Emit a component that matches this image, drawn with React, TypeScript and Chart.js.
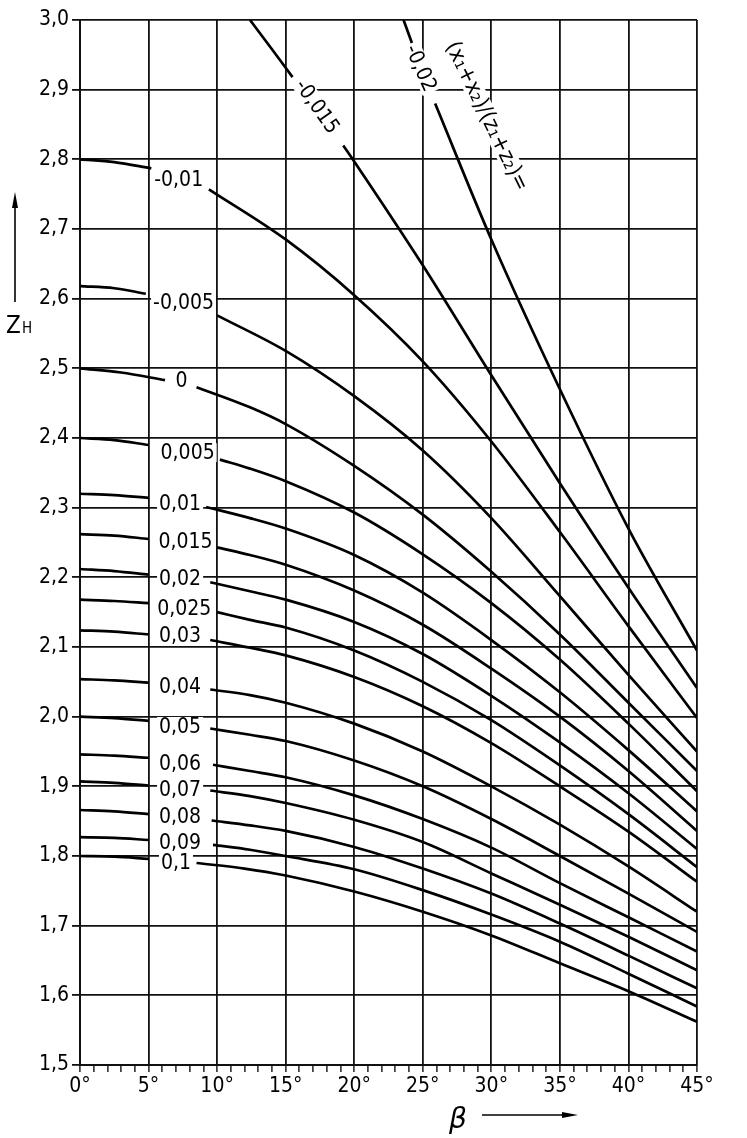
import React, { useEffect, useRef } from "react";
import { Chart, registerables } from "chart.js";

Chart.register(...registerables);

type Pt = [number, number | null];

// parameter (x1+x2)/(z1+z2) of each curve
const curveNames: string[] = [
  "-0,02", "-0,015", "-0,01", "-0,005", "0", "0,005", "0,01", "0,015", "0,02",
  "0,025", "0,03", "0,04", "0,05", "0,06", "0,07", "0,08", "0,09", "0,1",
];

// [beta in degrees, Z_H]; null = gap for the curve label
const zM020: Pt[] = [[23.6, 3.0], [24.3, 2.962], [25.0, null], [25.9, 2.88], [30, 2.685], [35, 2.47], [40, 2.27], [45, 2.095]];
const zM015: Pt[] = [[12.4, 3.0], [14, 2.958], [15.5, 2.918], [16.5, null], [19.2, 2.82], [20, 2.797], [25, 2.648], [30, 2.49], [35, 2.335], [40, 2.185], [45, 2.041]];
const zM010: Pt[] = [[0, 2.8], [2.5, 2.796], [5.2, 2.787], [6, null], [9.4, 2.757], [15, 2.685], [20, 2.605], [25, 2.51], [30, 2.395], [35, 2.265], [40, 2.13], [45, 1.998]];
const zM005: Pt[] = [[0, 2.618], [2.5, 2.615], [4.8, 2.607], [6, null], [10, 2.576], [15, 2.525], [20, 2.46], [25, 2.382], [30, 2.285], [35, 2.173], [40, 2.06], [45, 1.95]];
const zP000: Pt[] = [[0, 2.5], [3, 2.494], [6.2, 2.483], [7, null], [8.5, 2.473], [12.4, 2.444], [15, 2.42], [20, 2.36], [25, 2.29], [30, 2.208], [35, 2.118], [40, 2.02], [45, 1.922]];
const zP005: Pt[] = [[0, 2.4], [2.5, 2.397], [5, 2.39], [6, null], [10.2, 2.369], [12.4, 2.356], [15, 2.338], [20, 2.293], [25, 2.233], [30, 2.163], [35, 2.082], [40, 1.99], [45, 1.893]];
const zP010: Pt[] = [[0, 2.32], [2.5, 2.318], [5, 2.314], [6, null], [9.2, 2.301], [12.4, 2.285], [15, 2.27], [20, 2.232], [25, 2.178], [30, 2.11], [35, 2.035], [40, 1.952], [45, 1.864]];
const zP015: Pt[] = [[0, 2.262], [2.5, 2.26], [5, 2.255], [6, null], [10, 2.243], [12.4, 2.232], [15, 2.218], [20, 2.181], [25, 2.132], [30, 2.069], [35, 2.0], [40, 1.922], [45, 1.836]];
const zP020: Pt[] = [[0, 2.212], [2.5, 2.209], [5, 2.204], [6, null], [9.5, 2.193], [12.4, 2.18], [15, 2.168], [20, 2.136], [25, 2.09], [30, 2.03], [35, 1.963], [40, 1.89], [45, 1.81]];
const zP025: Pt[] = [[0, 2.168], [2.5, 2.166], [5, 2.163], [6, null], [10, 2.15], [12.4, 2.139], [15, 2.128], [20, 2.095], [25, 2.05], [30, 1.995], [35, 1.93], [40, 1.86], [45, 1.784]];
const zP030: Pt[] = [[0, 2.124], [2.5, 2.122], [5, 2.118], [6, null], [9.5, 2.11], [12.4, 2.099], [15, 2.088], [20, 2.057], [25, 2.015], [30, 1.962], [35, 1.9], [40, 1.835], [45, 1.763]];
const zP040: Pt[] = [[0, 2.054], [2.5, 2.052], [5, 2.049], [6, null], [9.5, 2.039], [12.4, 2.031], [15, 2.02], [20, 1.99], [25, 1.95], [30, 1.9], [35, 1.845], [40, 1.785], [45, 1.72]];
const zP050: Pt[] = [[0, 2.0], [2.5, 1.998], [5, 1.994], [6, null], [9.5, 1.983], [12.4, 1.974], [15, 1.965], [20, 1.937], [25, 1.9], [30, 1.853], [35, 1.8], [40, 1.746], [45, 1.691]];
const zP060: Pt[] = [[0, 1.946], [2.5, 1.944], [5, 1.941], [6, null], [9.7, 1.931], [12.4, 1.922], [15, 1.913], [20, 1.887], [25, 1.853], [30, 1.812], [35, 1.761], [40, 1.712], [45, 1.663]];
const zP070: Pt[] = [[0, 1.907], [2.5, 1.905], [5, 1.901], [6, null], [9.5, 1.894], [12.4, 1.886], [15, 1.876], [20, 1.852], [25, 1.82], [30, 1.775], [35, 1.73], [40, 1.684], [45, 1.636]];
const zP080: Pt[] = [[0, 1.866], [2.5, 1.864], [5, 1.86], [6, null], [9.6, 1.851], [12.4, 1.844], [15, 1.836], [20, 1.813], [25, 1.782], [30, 1.746], [35, 1.703], [40, 1.657], [45, 1.61]];
const zP090: Pt[] = [[0, 1.827], [2.5, 1.826], [5, 1.823], [6, null], [9.7, 1.816], [12.4, 1.809], [15, 1.8], [20, 1.781], [25, 1.751], [30, 1.716], [35, 1.677], [40, 1.631], [45, 1.584]];
const zP100: Pt[] = [[0, 1.8], [2.5, 1.799], [5, 1.796], [6, null], [8.5, 1.79], [12, 1.782], [15, 1.772], [20, 1.749], [25, 1.72], [30, 1.686], [35, 1.646], [40, 1.606], [45, 1.562]];

const curveSeries: Pt[][] = [
  zM020, zM015, zM010, zM005, zP000, zP005, zP010, zP015, zP020,
  zP025, zP030, zP040, zP050, zP060, zP070, zP080, zP090, zP100,
];

// label anchors [beta, Z_H, rotation deg]
const labelAnchors: [number, number, number][] = [
  [24.85, 2.931, 66], [17.3, 2.876, 55], [7.2, 2.771, 0], [7.55, 2.594, 0],
  [7.4, 2.483, 0], [7.85, 2.379, 0], [7.3, 2.306, 0], [7.7, 2.251, 0],
  [7.3, 2.198, 0], [7.6, 2.155, 0], [7.3, 2.116, 0], [7.3, 2.043, 0],
  [7.3, 1.986, 0], [7.3, 1.933, 0], [7.3, 1.896, 0], [7.3, 1.857, 0],
  [7.3, 1.82, 0], [7.0, 1.79, 0],
];

const paramTitle = "(x\u2081+x\u2082)/(z\u2081+z\u2082)=";
const titleAnchor: [number, number, number] = [29.7, 2.862, 64];

const xMin = 0, xMax = 45, yMin = 1.5, yMax = 3.0;

const FONT = '"DejaVu Sans Condensed", "DejaVu Sans", sans-serif';
const INK = "#111";

const labelPlugin = {
  id: "curveLabels",
  afterDatasetsDraw(chart: any) {
    const { ctx } = chart;
    const xs = chart.scales.x;
    const ys = chart.scales.y;
    ctx.save();
    ctx.textAlign = "center";
    ctx.textBaseline = "middle";
    const drawLabel = (text: string, a: [number, number, number], size: number) => {
      const px = xs.getPixelForValue(a[0]);
      const py = ys.getPixelForValue(a[1]);
      ctx.save();
      ctx.translate(px, py);
      ctx.rotate((a[2] * Math.PI) / 180);
      ctx.font = `${size}px ${FONT}`;
      const w = ctx.measureText(text).width;
      ctx.fillStyle = "#fff";
      ctx.fillRect(-w / 2 - 2, -size * 0.45, w + 4, size * 0.9);
      ctx.fillStyle = "#000";
      ctx.fillText(text, 0, 1);
      ctx.restore();
    };
    curveNames.forEach((n, i) => drawLabel(n, labelAnchors[i], 21));
    drawLabel(paramTitle, titleAnchor, 22);

    // y-axis title Z_H with arrow
    ctx.fillStyle = "#000";
    ctx.strokeStyle = "#000";
    ctx.lineWidth = 1.6;
    ctx.beginPath();
    ctx.moveTo(15, 302);
    ctx.lineTo(15, 205);
    ctx.stroke();
    ctx.beginPath();
    ctx.moveTo(15, 192);
    ctx.lineTo(12, 208);
    ctx.lineTo(18, 208);
    ctx.closePath();
    ctx.fill();
    ctx.textAlign = "left";
    ctx.textBaseline = "alphabetic";
    ctx.font = `24px ${FONT}`;
    ctx.fillText("Z", 6, 333);
    ctx.font = `15px ${FONT}`;
    ctx.fillText("H", 22, 333);

    // x-axis title beta with arrow
    ctx.font = `italic 28px "DejaVu Sans", sans-serif`;
    ctx.fillText("\u03b2", 449, 1128);
    ctx.beginPath();
    ctx.moveTo(482, 1115);
    ctx.lineTo(565, 1115);
    ctx.stroke();
    ctx.beginPath();
    ctx.moveTo(578, 1115);
    ctx.lineTo(562, 1112);
    ctx.lineTo(562, 1118);
    ctx.closePath();
    ctx.fill();
    ctx.restore();
  },
};

export default function App() {
  const canvasRef = useRef<HTMLCanvasElement | null>(null);

  useEffect(() => {
    if (!canvasRef.current) return;
    const datasets = curveSeries.map((s, i) => ({
      label: curveNames[i],
      data: s.map(([b, z]) => ({ x: b, y: z })),
      borderColor: "#000",
      borderWidth: 2.7,
      pointRadius: 0,
      fill: false,
      spanGaps: false,
      cubicInterpolationMode: "monotone" as const,
    }));
    const chart = new Chart(canvasRef.current, {
      type: "line",
      data: { datasets },
      options: {
        animation: false,
        responsive: false,
        devicePixelRatio: 1,
        layout: { padding: { top: 20, right: 50, left: 0, bottom: 0 } },
        plugins: { legend: { display: false }, tooltip: { enabled: false } },
        scales: {
          x: {
            type: "linear",
            min: xMin,
            max: xMax,
            afterFit: (s: any) => { s.height = 73; },
            ticks: {
              stepSize: 1,
              autoSkip: false,
              maxRotation: 0,
              minRotation: 0,
              padding: 2,
              color: "#000",
              font: { family: FONT, size: 21 },
              callback: (v: any) => (Number(v) % 5 === 0 ? `${v}\u00b0` : ""),
            },
            grid: {
              color: (c: any) => (c.tick && Math.round(c.tick.value) % 5 === 0 ? INK : "rgba(0,0,0,0)"),
              lineWidth: 1.8,
              tickColor: INK,
              tickLength: 7,
              tickWidth: 1.4,
            },
            border: { color: INK, width: 2 },
          },
          y: {
            type: "linear",
            min: yMin,
            max: yMax,
            afterFit: (s: any) => { s.width = 80; },
            ticks: {
              stepSize: 0.1,
              padding: 3,
              color: "#000",
              font: { family: FONT, size: 21 },
              callback: (v: any) => Number(v).toFixed(1).replace(".", ","),
            },
            grid: { color: INK, lineWidth: 1.8, tickColor: INK, tickLength: 8 },
            border: { color: INK, width: 2 },
          },
        },
      },
      plugins: [labelPlugin],
    });
    return () => chart.destroy();
  }, []);

  return (
    <div style={{ position: "absolute", left: 0, top: 0, width: 747, height: 1138, background: "#fff" }}>
      <canvas ref={canvasRef} width={747} height={1138} style={{ display: "block" }} />
    </div>
  );
}
